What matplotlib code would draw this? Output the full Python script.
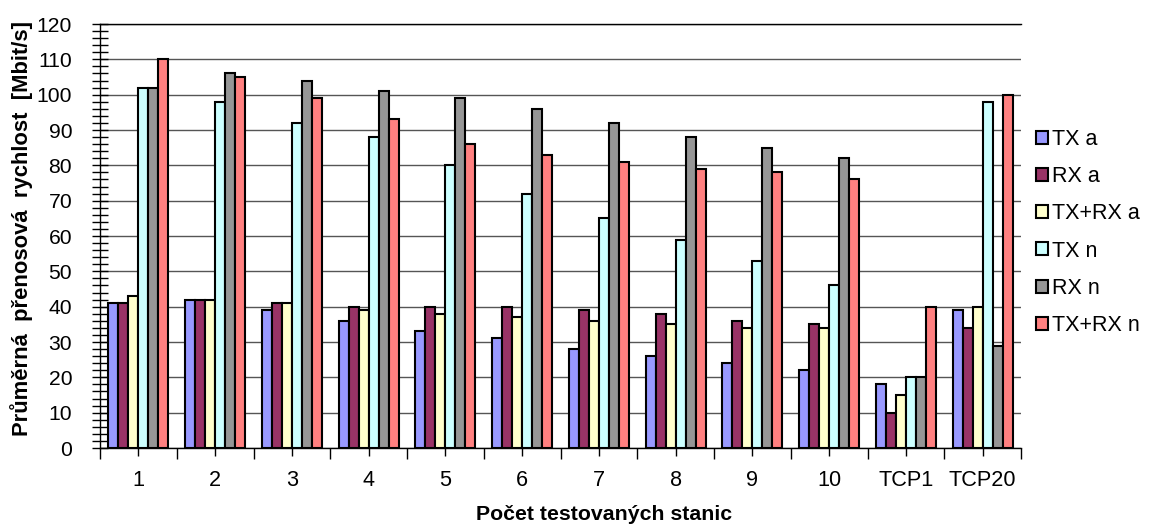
import matplotlib
matplotlib.use("Agg")
import matplotlib.pyplot as plt
import numpy as np
from matplotlib.patches import Patch

plt.rcParams['font.family'] = ['Liberation Sans', 'DejaVu Sans']

categories = ["1", "2", "3", "4", "5", "6", "7", "8", "9", "10", "TCP1", "TCP20"]
series_names = ["TX a", "RX a", "TX+RX a", "TX n", "RX n", "TX+RX n"]
tx_a = [41, 42, 39, 36, 33, 31, 28, 26, 24, 22, 18, 39]
rx_a = [41, 42, 41, 40, 40, 40, 39, 38, 36, 35, 10, 34]
txrx_a = [43, 42, 41, 39, 38, 37, 36, 35, 34, 34, 15, 40]
tx_n = [102, 98, 92, 88, 80, 72, 65, 59, 53, 46, 20, 98]
rx_n = [102, 106, 104, 101, 99, 96, 92, 88, 85, 82, 20, 29]
txrx_n = [110, 105, 99, 93, 86, 83, 81, 79, 78, 76, 40, 100]
series = [tx_a, rx_a, txrx_a, tx_n, rx_n, txrx_n]
colors = ["#9999FF", "#993366", "#FFFFCC", "#CCFFFF", "#969696", "#FF8080"]

W, H = 1150, 527
fig = plt.figure(figsize=(W / 100, H / 100), dpi=100)
L, R, B, T = 100, 1021, 448, 24
ax = fig.add_axes([L / W, 1 - B / H, (R - L) / W, (B - T) / H])

x = np.arange(len(categories))
bw = 0.13
for i, (vals, c) in enumerate(zip(series, colors)):
    ax.bar(x + (i - 2.5) * bw, vals, width=bw, color=c, edgecolor='black',
           linewidth=1.5, label=series_names[i], zorder=3)

ax.set_xlim(-0.5, len(categories) - 0.5)
ax.set_ylim(0, 120)
ax.set_yticks(np.arange(0, 121, 10))
ax.set_yticks(np.arange(0, 121, 2), minor=True)
ax.yaxis.grid(True, which='major', color='#555555', linewidth=1.0, zorder=0)
ax.set_axisbelow(True)

ax.set_xticks(np.arange(-0.5, len(categories), 1.0))
ax.set_xticklabels([])
ax.set_xticks(x, minor=True)
ax.set_xticklabels(categories, minor=True)
ax.tick_params(axis='x', which='major', length=8, width=1, direction='out')
ax.tick_params(axis='x', which='minor', length=6, width=1, direction='out',
               labelsize=15.6, pad=10)
ax.tick_params(axis='y', which='both', length=12, width=1, direction='inout',
               labelsize=15.2, pad=14)

ax.spines['right'].set_visible(False)
ax.spines['top'].set_color('black')
for s in ['top', 'left', 'bottom']:
    ax.spines[s].set_linewidth(1.0)

fig.text(22 / W, 1 - 228.5 / H, "Průměrná  přenosová  rychlost  [Mbit/s]", rotation=90,
         ha='center', va='center', fontsize=15.8, fontweight='bold')
fig.text(604 / W, 1 - 514 / H, "Počet testovaných stanic", ha='center', va='center',
         fontsize=15.3, fontweight='bold')

handles = [Patch(facecolor=c, edgecolor='black', linewidth=1.5) for c in colors]
fig.legend(handles, series_names, loc='center left',
           bbox_to_anchor=(1036 / W, 1 - 232.5 / H), frameon=False,
           fontsize=15.5, handlelength=0.55, handleheight=0.55,
           handletextpad=0.2, labelspacing=0.75, borderpad=0, borderaxespad=0)

fig.savefig("out.png", dpi=100)
